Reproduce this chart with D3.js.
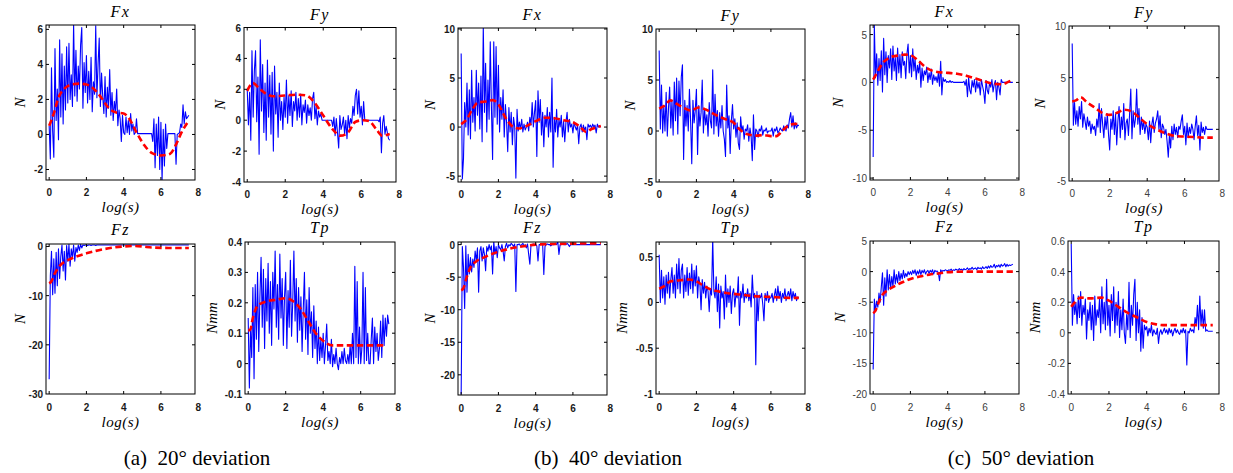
<!DOCTYPE html>
<html>
<head>
<meta charset="utf-8">
<script src="https://cdn.jsdelivr.net/npm/d3@7"></script>
<style>
  body { margin: 0; background: #fff; }
  svg { display: block; }
</style>
</head>
<body>
<svg id="fig" width="1233" height="473"></svg>
<script>
// ---- data ----
// raw samples are on a regular log(s) grid, 1/16 apart, from 0 to 7.5
const logS = d3.range(0, 121).map(i => i / 16);
const xTicks = [0, 2, 4, 6, 8];
const captions = ["(a)  20\u00b0 deviation", "(b)  40\u00b0 deviation", "(c)  50\u00b0 deviation"];

const rawAFx = [
  0.5,-1.4,3.8,0.2,-1.3,4.9,0.8,2.6,-0.3,5.4,1.0,4.6,0.6,3.9,1.4,5.0,
  1.8,5.2,2.0,3.4,1.6,6.3,2.2,4.8,1.9,3.9,2.6,5.1,6.1,1.5,4.1,2.4,
  4.5,1.8,3.6,2.0,4.4,1.3,3.0,2.3,6.2,2.1,4.0,5.5,1.6,3.5,2.2,1.2,
  3.3,1.0,2.7,1.5,3.7,1.1,2.4,0.8,1.9,1.3,2.6,0.5,1.4,0.9,-0.4,1.1,
  0.1,0.0,1.0,0.1,0.8,0.0,1.2,0.2,0.6,0.0,0.1,0.9,0.05,0.05,0.05,0.05,
  0.05,0.05,0.05,0.05,0.05,0.05,0.05,0.05,0.05,-0.4,0.9,-1.9,0.6,-1.2,1.0,-2.0,
  0.7,-2.6,0.3,-1.8,0.6,-0.8,0.05,0.05,0.05,0.05,0.05,0.05,0.05,-1.7,0.0,0.05,
  0.1,0.6,0.4,1.7,0.6,1.3,0.9,1.0,1.1];
const fitAFx = [[0,0.5],[0.25,1.2],[0.5,2.1],[0.8,2.6],[1.2,2.85],[1.6,2.9],[2.0,2.85],[2.4,2.6],
  [2.8,2.1],[3.2,1.5],[3.6,1.25],[4.0,1.2],[4.3,0.9],[4.7,0.1],[5.1,-0.6],[5.5,-1.05],[6.0,-1.2],
  [6.5,-1.1],[6.8,-0.6],[7.1,0.1],[7.5,0.8]];

const rawAFy = [
  2.0,-0.3,1.8,-1.3,4.5,0.2,3.2,4.5,-0.1,2.8,-2.2,5.2,0.6,3.6,-0.8,2.4,
  -1.3,3.9,0.2,2.9,-0.9,3.1,-2.0,3.5,0.4,1.8,-1.1,2.4,0.0,1.2,-0.6,1.5,
  0.2,2.6,-0.2,1.6,0.3,1.9,-0.4,1.2,0.6,1.8,0.0,1.4,0.2,1.7,-0.3,1.0,
  0.5,1.3,-0.2,1.0,0.3,0.8,0.0,1.4,1.8,0.1,0.9,-0.3,0.6,0.2,0.4,0.0,
  0.0,0.0,0.0,0.0,0.0,0.0,0.0,0.0,-0.4,0.2,-1.0,0.1,-0.8,-1.8,0.3,-0.6,
  -0.3,0.2,-0.9,0.0,-1.2,0.3,-0.5,0.1,-0.2,0.9,0.3,1.6,2.0,0.4,1.9,0.2,
  0.9,-0.3,1.2,0.0,0.0,0.0,0.0,0.0,0.0,0.0,0.0,0.0,0.0,0.0,0.0,-0.1,
  0.2,-2.1,-0.2,0.3,-0.9,-0.4,-0.8,-1.2,-1.3];
const fitAFy = [[0,1.9],[0.3,2.4],[0.6,2.1],[1.0,1.7],[1.4,1.55],[2.0,1.6],[2.6,1.65],[3.1,1.6],
  [3.5,1.2],[4.0,0.3],[4.5,-0.6],[4.9,-1.0],[5.3,-0.8],[5.7,-0.1],[6.1,0.0],[6.4,-0.05],
  [6.8,-0.6],[7.1,-1.0],[7.5,-0.9]];

const rawAFz = [
  -27,-6,-1,-9.8,-2.5,-9.5,-1.2,-8.0,-0.5,-6.5,-2.0,0.3,-5.0,-1.0,-6.8,0.2,
  -3.0,0.4,-4.0,-0.5,-2.2,0.3,-3.0,-0.2,-1.2,0.3,-0.8,0.4,-0.3,0.3,0.2,0.3,
  0.3,0.2,0.3,0.3,0.2,0.3,0.3,0.3,0.2,0.3,0.3,0.3,0.3,0.3,0.3,0.3,
  0.3,0.3,0.3,0.3,0.3,0.3,0.3,0.3,0.3,0.3,0.3,0.3,0.3,0.3,0.3,0.3,
  0.3,0.3,0.3,0.3,0.3,0.3,0.3,0.3,0.3,0.3,0.3,0.3,0.3,0.3,0.3,0.3,
  0.3,0.3,0.3,0.3,0.3,0.3,0.3,0.3,0.3,0.3,0.3,0.3,0.3,0.3,0.3,0.3,
  0.3,0.3,0.3,0.3,0.3,0.3,0.3,0.3,0.3,0.3,0.3,0.3,0.3,0.3,0.3,0.3,
  0.3,0.3,0.3,0.3,0.3,0.3,0.3,0.3,0.3];
const fitAFz = [[0,-7.5],[0.1,-7.2],[0.3,-5.5],[0.6,-3.8],[1.0,-2.8],[1.5,-2.0],[2.0,-1.4],
  [2.5,-0.9],[3.0,-0.5],[3.5,-0.2],[4.0,0.0],[4.5,0.1],[5.0,0.0],[5.5,-0.2],[6.5,-0.3],[7.5,-0.3]];

const rawATp = [
  0.15,-0.08,0.12,0.02,0.25,-0.05,0.26,0.08,0.30,0.04,0.22,0.35,0.12,0.31,0.05,0.28,
  0.14,0.33,0.10,0.27,0.06,0.30,0.18,0.37,0.12,0.26,0.08,0.36,0.15,0.28,0.06,0.22,
  0.30,0.05,0.24,0.12,0.34,0.09,0.20,0.37,0.14,0.28,0.07,0.25,0.11,0.22,0.04,0.18,
  0.30,0.08,0.21,0.03,0.25,0.10,0.17,0.02,0.19,0.05,0.14,0.00,0.12,0.01,0.08,0.02,
  0.10,0.00,0.06,0.13,0.01,0.04,0.00,0.08,-0.01,0.03,0.00,0.05,0.00,-0.02,0.02,0.00,
  0.04,0.00,0.05,0.01,0.00,0.03,0.00,0.06,0.00,0.10,0.00,0.32,0.02,0.27,0.00,0.12,
  0.00,0.05,0.30,0.00,0.25,0.01,0.10,0.00,0.00,0.08,0.15,0.00,0.12,0.04,0.10,0.01,
  0.05,0.14,0.02,0.16,0.06,0.15,0.09,0.16,0.13];
const fitATp = [[0,0.11],[0.1,0.11],[0.25,0.15],[0.5,0.19],[1.0,0.205],[1.5,0.21],[2.0,0.215],
  [2.4,0.205],[2.8,0.18],[3.2,0.14],[3.6,0.1],[4.0,0.075],[4.5,0.06],[5.0,0.06],[6.0,0.06],[7.3,0.06]];

const rawBFx = [
  7.5,-5.3,-3.2,2.5,0.0,4.5,-0.8,3.8,-1.2,5.8,0.5,3.0,-0.4,5.8,1.2,4.5,
  -0.2,5.2,-1.5,10.3,1.5,6.5,-0.5,4.8,0.8,8.7,2.0,-3.3,8.7,1.0,8.2,0.3,
  6.3,-0.5,3.0,0.8,3.8,-1.0,2.3,0.5,-2.5,2.0,-0.5,1.5,-1.8,1.0,0.0,-5.2,
  1.8,-0.4,0.5,-0.2,0.8,-0.5,0.3,-0.3,0.0,0.5,-0.4,1.0,0.2,2.5,0.0,1.5,
  2.7,-3.0,3.7,0.5,2.8,-0.8,1.5,-2.0,1.2,0.0,2.0,-1.0,1.5,-0.5,5.0,-4.1,
  1.0,-0.5,1.8,-1.0,0.8,0.0,1.2,-1.0,0.6,-1.5,0.5,1.5,-0.5,0.8,0.0,0.3,
  -0.6,0.5,0.0,-0.3,0.2,-1.7,0.0,0.3,-0.5,0.2,-0.3,0.0,-1.3,0.3,0.0,0.2,
  -0.1,0.3,0.0,0.2,-0.6,0.3,0.0,0.1,0.0];
const fitBFx = [[0,0.3],[0.3,0.8],[0.6,1.8],[0.9,2.5],[1.3,2.6],[1.7,2.75],[2.0,2.3],[2.4,0.9],
  [2.8,0.0],[3.1,-0.15],[3.5,0.1],[4.0,0.6],[4.5,0.95],[5.0,0.9],[5.5,0.7],[6.0,0.5],[6.4,0.0],
  [6.7,-0.5],[7.0,-0.2],[7.5,0.1]];

const rawBFy = [
  7.9,0.2,4.5,-0.2,2.5,0.0,3.8,-0.5,2.2,4.3,0.3,3.0,-0.4,4.8,1.0,5.2,
  -0.3,4.9,1.5,5.3,6.5,-2.8,3.0,0.5,2.5,0.0,4.1,1.0,-3.2,3.0,0.8,2.0,
  4.1,-2.3,2.5,0.5,1.8,5.0,-0.2,2.2,0.6,1.6,-0.5,2.8,1.0,0.3,6.0,-0.3,
  3.6,0.5,2.0,-0.5,1.8,0.3,2.5,0.0,-0.8,-2.5,4.5,0.3,1.5,-2.2,1.0,2.6,
  0.2,1.2,-0.6,0.8,-1.2,-1.8,1.4,0.0,0.5,-0.8,0.2,0.0,0.6,-1.0,0.3,-0.5,
  -2.9,1.6,-1.8,0.2,0.0,-0.6,0.2,0.0,0.5,-0.4,0.1,0.0,0.3,-0.2,0.0,0.0,
  0.0,0.3,-0.5,0.2,0.0,0.4,-0.2,0.0,0.3,0.1,0.0,0.5,0.2,0.0,0.6,0.3,
  1.2,1.8,0.4,1.5,0.2,0.8,0.3,0.6,0.5];
const fitBFy = [[0,2.2],[0.3,2.5],[0.6,3.0],[0.9,2.7],[1.3,2.3],[1.7,2.0],[2.1,2.3],[2.5,2.1],
  [3.0,1.6],[3.5,1.2],[4.0,0.8],[4.3,0.2],[4.7,-0.3],[5.2,-0.45],[5.6,-0.4],[6.0,-0.5],[6.3,-0.5],
  [6.6,0.0],[7.0,0.6],[7.3,0.7],[7.5,0.65]];

const rawBFz = [
  -23,-0.3,-3.5,-9.8,-0.2,-7.3,-1.5,-4.5,-2.0,-4.2,-2.2,-3.5,-1.0,-2.5,-0.5,-7.3,
  -1.0,-0.3,-2.5,-0.5,-1.5,-4.0,-0.3,-1.0,0.0,-0.8,-0.2,-4.5,0.5,-1.5,-0.3,-2.0,
  0.0,-0.5,-0.8,0.0,-1.0,-2.5,-0.3,0.2,-0.5,0.0,-0.2,0.2,0.0,-0.3,0.1,-7.2,
  0.0,0.0,0.1,-0.2,0.0,0.2,-0.3,0.0,-0.5,0.1,-1.5,-3.0,0.0,0.0,0.1,0.0,
  0.0,-0.2,-2.5,0.0,0.0,0.1,0.0,-4.6,-0.3,0.0,0.1,0.0,0.0,-0.2,0.0,0.0,
  0.0,0.1,0.0,0.5,-1.5,0.0,0.0,0.1,0.0,0.0,0.0,0.2,0.0,-0.3,0.0,0.0,
  0.0,0.0,0.0,0.0,0.0,0.0,0.0,0.0,0.0,0.0,0.0,0.0,0.0,0.0,0.0,0.0,
  0.0,0.0,0.0,0.0,0.0,0.0,0.0,0.0,0.0];
const fitBFz = [[0,-7.0],[0.1,-6.8],[0.3,-5.0],[0.5,-3.5],[0.8,-2.6],[1.2,-2.0],[1.6,-1.5],
  [2.0,-1.1],[2.5,-0.7],[3.0,-0.4],[3.5,-0.2],[4.0,0.0],[5.0,0.1],[6.0,0.15],[7.5,0.2]];

const rawBTp = [
  0.52,0.0,0.35,0.05,0.28,-0.02,0.30,0.10,0.33,0.05,0.25,0.38,0.10,0.30,0.05,0.42,
  0.15,0.48,0.10,0.35,0.42,0.05,0.30,0.12,0.38,0.08,0.32,0.15,0.42,0.10,0.35,0.18,
  0.40,0.05,0.28,0.20,-0.08,0.25,0.10,0.22,0.05,0.18,0.12,-0.10,0.15,0.08,0.70,0.12,
  0.05,0.28,-0.10,0.20,-0.28,0.18,0.05,0.12,-0.18,0.30,-0.05,0.15,0.00,0.18,-0.12,0.10,
  0.15,-0.05,0.10,0.05,0.28,-0.25,0.12,0.05,0.20,0.00,0.10,0.05,0.15,0.02,0.10,-0.05,
  0.30,0.05,0.10,-0.68,0.12,-0.20,0.08,0.05,0.10,-0.02,-0.20,0.10,0.02,0.12,0.00,0.05,
  0.05,0.10,0.00,0.08,0.15,0.02,0.18,0.05,0.12,0.00,0.10,0.05,0.15,0.02,0.08,0.12,
  0.05,0.15,0.02,0.12,0.05,0.10,0.02,0.06,0.05];
const fitBTp = [[0,0.15],[0.3,0.18],[0.6,0.23],[1.0,0.24],[1.6,0.25],[2.0,0.23],[2.4,0.18],
  [2.8,0.14],[3.2,0.12],[3.7,0.1],[4.2,0.09],[5.0,0.07],[6.0,0.06],[7.0,0.05],[7.5,0.05]];

const rawCFx = [
  -7.8,6.0,0.5,3.0,-0.3,2.5,0.2,3.3,-1.0,4.6,0.8,3.2,0.0,2.8,1.5,3.5,
  0.3,3.8,1.2,2.6,0.2,3.6,1.0,2.9,0.5,3.2,1.8,2.2,0.4,3.0,4.0,1.0,
  2.8,0.6,3.5,1.2,2.5,0.3,1.8,1.0,2.2,-0.5,1.5,0.2,1.2,0.8,1.6,0.0,
  1.0,0.3,1.4,-0.2,0.8,0.2,0.6,0.0,1.0,-0.4,2.2,-1.3,0.5,0.1,0.3,0.0,
  0.1,0.0,0.2,0.0,0.1,0.0,0.0,0.0,0.0,0.0,0.0,0.0,0.0,0.0,0.1,-0.3,
  0.3,-1.5,0.5,-0.8,-1.2,0.2,-0.5,0.3,-1.0,0.2,-0.6,0.0,-1.3,0.3,-0.4,-1.0,
  -2.2,0.2,-0.8,-1.2,0.0,-0.5,0.3,-1.0,-0.2,0.2,-1.8,0.0,-0.5,-1.3,0.3,0.0,
  0.0,0.0,0.0,0.0,0.0,0.0,0.0,0.0,0.0];
const fitCFx = [[0,0.3],[0.2,1.0],[0.5,2.0],[0.9,2.6],[1.3,2.8],[1.7,2.9],[2.0,2.85],[2.4,2.3],
  [2.8,1.6],[3.2,1.2],[3.6,1.05],[4.0,1.0],[4.5,0.9],[5.0,0.7],[5.5,0.4],[6.0,0.1],[6.5,-0.15],
  [6.9,-0.2],[7.2,0.0],[7.5,0.3]];

const rawCFy = [
  8.3,0.4,2.6,0.5,1.8,0.3,2.2,1.0,2.7,0.2,1.5,0.8,0.0,1.2,0.3,0.8,
  -0.4,0.5,0.0,0.3,-0.6,1.0,0.2,2.5,-0.3,2.0,0.5,-0.8,1.2,0.0,1.5,-0.5,
  -2.0,1.0,0.0,1.8,-0.5,1.5,-1.5,0.8,2.2,-0.8,1.2,0.0,2.5,-1.0,0.6,1.0,
  -0.6,1.5,3.9,-0.9,1.8,0.2,1.0,3.9,0.5,2.0,-0.5,1.2,0.0,0.8,-0.4,0.5,
  0.2,-1.0,0.8,-1.3,0.5,1.2,-0.3,0.6,1.0,1.8,0.0,1.3,-0.8,0.5,0.2,-0.5,
  0.0,-1.2,-2.7,-0.5,-1.8,0.3,-1.0,0.5,-0.5,0.2,-0.8,0.3,0.0,0.8,1.4,-0.5,
  0.3,-1.5,0.6,-0.8,0.2,-0.4,0.5,0.0,-1.0,0.3,1.3,-0.6,0.4,-2.0,0.7,-0.3,
  0.2,-0.5,0.3,0.0,0.0,0.0,0.0,0.0,0.0];
const fitCFy = [[0,2.7],[0.2,2.8],[0.45,3.1],[0.8,2.6],[1.2,2.1],[1.6,1.6],[2.0,1.4],[2.4,1.6],
  [2.8,1.9],[3.2,1.7],[3.6,1.1],[4.0,0.5],[4.5,0.0],[5.0,-0.4],[5.5,-0.65],[6.0,-0.7],[6.5,-0.75],
  [7.0,-0.8],[7.5,-0.8]];

const rawCFz = [
  -16,-4.5,-6.5,-4.8,-5.8,-3.5,-5.0,-2.5,-0.2,-5.5,-1.0,-4.0,0.3,-3.0,-0.5,-2.8,
  -0.8,-2.5,0.3,-2.0,-0.5,-1.8,0.0,-1.5,-0.3,-1.2,0.2,-1.0,-0.3,-0.8,0.0,-0.5,
  0.0,-0.5,0.2,-0.3,0.3,-0.6,0.1,-0.4,0.3,-0.5,0.2,-0.2,0.3,-0.4,0.0,0.2,
  -0.3,0.2,-0.1,0.3,-0.4,0.2,0.0,0.1,-0.2,-1.5,0.3,0.0,0.2,0.1,0.3,0.2,
  0.1,0.3,0.2,0.4,0.1,0.3,0.2,0.4,0.3,0.2,0.5,0.3,0.4,0.2,0.5,0.3,
  0.4,0.6,0.3,0.5,0.4,0.7,0.4,0.5,0.6,0.3,0.7,0.5,0.6,0.4,0.8,0.5,
  0.6,0.8,0.5,0.9,0.6,1.0,0.7,0.8,1.2,0.6,1.0,0.8,1.1,0.7,1.2,0.9,
  1.0,1.3,0.8,1.2,0.9,1.1,1.0,1.1,1.2];
const fitCFz = [[0,-6.8],[0.1,-6.5],[0.3,-5.0],[0.5,-3.8],[0.8,-3.0],[1.2,-2.3],[1.6,-1.7],
  [2.0,-1.2],[2.5,-0.8],[3.0,-0.5],[3.5,-0.3],[4.0,-0.1],[5.0,0.0],[6.0,0.0],[7.5,0.0]];

const rawCTp = [
  0.58,0.05,0.25,0.12,0.20,0.06,0.24,0.10,0.27,0.05,0.18,0.12,0.22,-0.04,0.15,0.08,
  0.20,0.02,0.18,-0.05,0.24,0.05,0.15,0.10,0.22,0.00,0.30,0.06,0.20,0.02,0.35,0.05,
  0.18,-0.02,0.25,0.08,0.30,0.00,0.20,0.05,0.27,-0.03,0.15,0.02,0.22,0.00,-0.07,0.12,
  0.02,0.33,-0.03,0.18,0.05,0.25,0.35,-0.05,0.20,0.00,0.15,-0.12,0.10,-0.10,0.05,0.02,
  0.04,-0.02,0.03,0.00,0.05,-0.02,0.02,0.00,-0.01,0.03,-0.07,0.00,0.02,-0.01,0.01,0.03,
  0.00,0.02,-0.01,0.03,0.00,0.02,-0.02,0.01,0.03,0.00,0.02,0.00,-0.01,0.02,0.00,0.03,
  0.00,0.02,-0.21,0.01,0.00,0.03,0.01,0.02,0.00,0.10,0.05,0.18,0.02,0.24,0.05,0.15,
  0.03,0.15,0.01,0.02,0.01,0.01,0.01,0.01,0.01];
const fitCTp = [[0,0.17],[0.2,0.2],[0.5,0.23],[1.0,0.225],[1.6,0.23],[2.0,0.21],[2.5,0.17],
  [3.0,0.13],[3.5,0.1],[4.0,0.07],[4.5,0.055],[5.0,0.05],[6.0,0.05],[7.5,0.05]];

// ---- panel layout (pixel boxes, axis limits, ticks) ----
const panels = [
  {grp: 0, title: "Fx", ylab: "N",   raw: rawAFx, fit: fitAFx, box: [46, 195, 25, 180],   ydom: [-2.6, 6.25],  yt: [-2, 0, 2, 4, 6],            lab: 26},
  {grp: 0, title: "Fy", ylab: "N",   raw: rawAFy, fit: fitAFy, box: [244, 396, 27.5, 182], ydom: [-4, 6],     yt: [-4, -2, 0, 2, 4, 6],        lab: 24},
  {grp: 0, title: "Fz", ylab: "N",   raw: rawAFz, fit: fitAFz, box: [46, 195, 244, 394],  ydom: [-30, 0.5],    yt: [-30, -20, -10, 0],          lab: 26},
  {grp: 0, title: "Tp", ylab: "Nmm", raw: rawATp, fit: fitATp, box: [245, 395, 242, 394], ydom: [-0.1, 0.4],   yt: [-0.1, 0, 0.1, 0.2, 0.3, 0.4], lab: 33},
  {grp: 1, title: "Fx", ylab: "N",   raw: rawBFx, fit: fitBFx, box: [458, 607, 28, 182],  ydom: [-5.6, 10.1],  yt: [-5, 0, 5, 10],              lab: 28},
  {grp: 1, title: "Fy", ylab: "N",   raw: rawBFy, fit: fitBFy, box: [656, 805, 29, 182],  ydom: [-5, 10],      yt: [-5, 0, 5, 10],              lab: 26},
  {grp: 1, title: "Fz", ylab: "N",   raw: rawBFz, fit: fitBFz, box: [458, 607, 242, 395], ydom: [-23.1, 0.4],  yt: [-20, -15, -10, -5, 0],      lab: 28},
  {grp: 1, title: "Tp", ylab: "Nmm", raw: rawBTp, fit: fitBTp, box: [656, 805, 242, 394], ydom: [-1, 0.66],    yt: [-1, -0.5, 0, 0.5],          lab: 34},
  {grp: 2, title: "Fx", ylab: "N",   raw: rawCFx, fit: fitCFx, box: [870, 1019, 25, 180], ydom: [-10.2, 6.0],  yt: [-10, -5, 0, 5],             lab: 32},
  {grp: 2, title: "Fy", ylab: "N",   raw: rawCFy, fit: fitCFy, box: [1069, 1219, 26, 181], ydom: [-5, 10],     yt: [-5, 0, 5, 10],              lab: 29},
  {grp: 2, title: "Fz", ylab: "N",   raw: rawCFz, fit: fitCFz, box: [870, 1019, 241, 394], ydom: [-20, 5],     yt: [-20, -15, -10, -5, 0, 5],   lab: 30},
  {grp: 2, title: "Tp", ylab: "Nmm", raw: rawCTp, fit: fitCTp, box: [1068, 1219, 241, 394], ydom: [-0.4, 0.6], yt: [-0.4, -0.2, 0, 0.2, 0.4, 0.6], lab: 33}
];

const grpStyle = [
  {fill: "#1a1a1a", weight: "bold"},
  {fill: "#1a1a1a", weight: "bold"},
  {fill: "#404040", weight: "normal"}
];

const svg = d3.select("#fig");
const serif = "'Liberation Serif', 'Times New Roman', serif";
const sans = "'Liberation Sans', Arial, Helvetica, sans-serif";

panels.forEach(function (p, k) {
  const [x0, x1, y0, y1] = p.box;
  const st = grpStyle[p.grp];
  const top = y0 < 100;

  const x = d3.scaleLinear().domain([-0.17, 7.83]).range([x0, x1]);
  const y = d3.scaleLinear().domain(p.ydom).range([y1, y0]);

  const g = svg.append("g");

  g.append("clipPath").attr("id", "clip" + k)
    .append("rect").attr("x", x0).attr("y", y0).attr("width", x1 - x0).attr("height", y1 - y0);

  const plot = g.append("g").attr("clip-path", "url(#clip" + k + ")");

  // raw measurement
  const rawLine = d3.line().x((d, i) => x(logS[i])).y(d => y(d));
  plot.append("path")
    .datum(p.raw)
    .attr("d", rawLine)
    .attr("fill", "none")
    .attr("stroke", "#0000ff")
    .attr("stroke-width", 1.1)
    .attr("stroke-linejoin", "round");

  // fitted trend
  const fitLine = d3.line().x(d => x(d[0])).y(d => y(d[1])).curve(d3.curveMonotoneX);
  plot.append("path")
    .datum(p.fit)
    .attr("d", fitLine)
    .attr("fill", "none")
    .attr("stroke", "#ff0000")
    .attr("stroke-width", 2.6)
    .attr("stroke-dasharray", "6.5,3.5");

  // box
  g.append("rect")
    .attr("x", x0).attr("y", y0).attr("width", x1 - x0).attr("height", y1 - y0)
    .attr("fill", "none").attr("stroke", "#000").attr("stroke-width", 1);

  // inward ticks on all four sides
  p.yt.forEach(function (v) {
    const yy = y(v);
    if (yy > y0 + 0.5 && yy < y1 - 0.5) {
      g.append("line").attr("x1", x0).attr("x2", x0 + 3).attr("y1", yy).attr("y2", yy).attr("stroke", "#000");
      g.append("line").attr("x1", x1 - 3).attr("x2", x1).attr("y1", yy).attr("y2", yy).attr("stroke", "#000");
    }
    g.append("text")
      .attr("x", x0 - 3).attr("y", yy + 4)
      .attr("text-anchor", "end")
      .attr("font-family", sans).attr("font-size", 10)
      .attr("font-weight", st.weight).attr("fill", st.fill)
      .text(String(v));
  });
  xTicks.forEach(function (v) {
    const xx = x(v);
    if (xx > x0 + 0.5 && xx < x1 - 0.5) {
      g.append("line").attr("x1", xx).attr("x2", xx).attr("y1", y1).attr("y2", y1 - 3).attr("stroke", "#000");
      g.append("line").attr("x1", xx).attr("x2", xx).attr("y1", y0).attr("y2", y0 + 3).attr("stroke", "#000");
    }
    g.append("text")
      .attr("x", xx).attr("y", y1 + (top ? 16 : 17))
      .attr("text-anchor", "middle")
      .attr("font-family", sans).attr("font-size", 10)
      .attr("font-weight", st.weight).attr("fill", st.fill)
      .text(String(v));
  });

  // title, axis labels
  g.append("text")
    .attr("x", (x0 + x1) / 2).attr("y", y0 - (top ? 8 : 9))
    .attr("text-anchor", "middle")
    .attr("font-family", serif).attr("font-style", "italic").attr("font-size", 16)
    .attr("letter-spacing", 1.5)
    .attr("fill", "#000")
    .text(p.title);

  g.append("text")
    .attr("x", (x0 + x1) / 2).attr("y", y1 + (top ? 32 : 33))
    .attr("text-anchor", "middle")
    .attr("font-family", serif).attr("font-style", "italic").attr("font-size", 15)
    .attr("letter-spacing", 0.5)
    .attr("fill", "#000")
    .text("log(s)");

  g.append("text")
    .attr("transform", "translate(" + (x0 - p.lab) + "," + ((y0 + y1) / 2) + ") rotate(-90)")
    .attr("dy", "0.35em")
    .attr("text-anchor", "middle")
    .attr("font-family", serif).attr("font-style", "italic").attr("font-size", 15)
    .attr("fill", "#000")
    .text(p.ylab);
});

// sub-figure captions
const capX = [197, 608, 1021];
captions.forEach(function (c, i) {
  svg.append("text")
    .attr("x", capX[i]).attr("y", 465)
    .attr("text-anchor", "middle")
    .attr("font-family", serif).attr("font-size", 21)
    .attr("fill", "#000")
    .attr("xml:space", "preserve")
    .style("white-space", "pre")
    .text(c);
});
</script>
</body>
</html>
